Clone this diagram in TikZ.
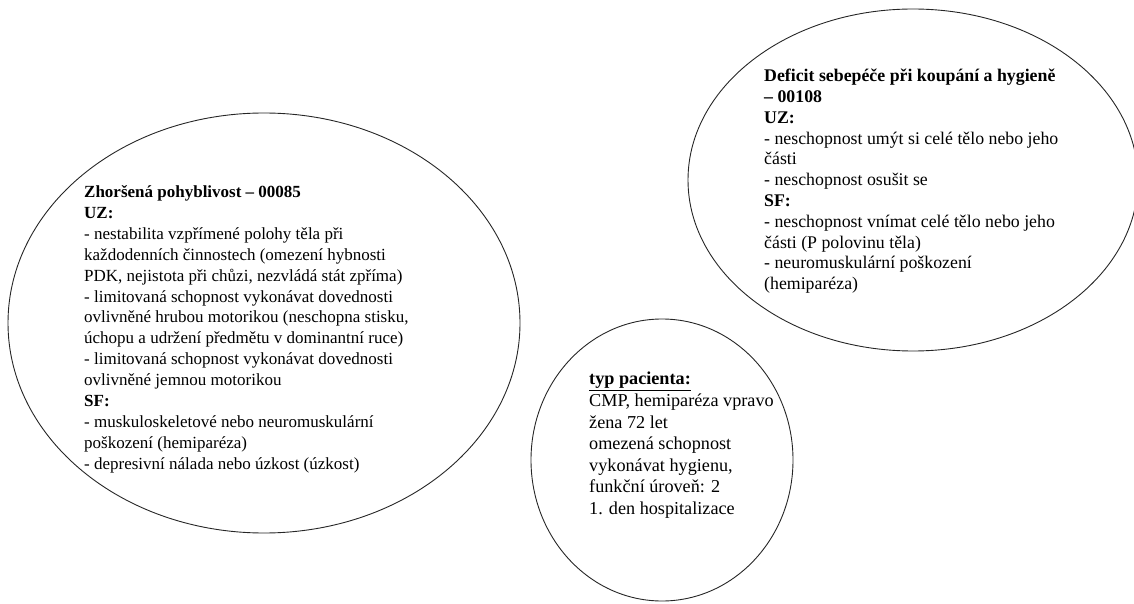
\documentclass[tikz,border=0pt]{standalone}
\usepackage{fontspec}
\setmainfont{Liberation Serif}
\usetikzlibrary{shapes.geometric}
\begin{document}
\begin{tikzpicture}[x=1pt,y=1pt,
  bubble/.style={draw=black!85, line width=0.9pt, ellipse, inner sep=0pt},
  txt/.style={anchor=north west, inner sep=0pt, align=left}]
\useasboundingbox (0,0) rectangle (1134,603);
\node[bubble, minimum width=512, minimum height=420] (e1) at (264,280) {};
\node[bubble, minimum width=450, minimum height=342] (e2) at (913,423) {};
\node[bubble, minimum width=262, minimum height=282] (e3) at (662,143) {};
\node[txt, font=\fontsize{17}{20.9}\selectfont] (t1) at (84,417.6) {\textbf{Zhoršená pohyblivost – 00085}\\
\textbf{UZ:}\\
- nestabilita vzpřímené polohy těla při\\
každodenních činnostech (omezení hybnosti\\
PDK, nejistota při chůzi, nezvládá stát zpříma)\\
- limitovaná schopnost vykonávat dovednosti\\
ovlivněné hrubou motorikou (neschopna stisku,\\
úchopu a udržení předmětu v dominantní ruce)\\
- limitovaná schopnost vykonávat dovednosti\\
ovlivněné jemnou motorikou\\
\textbf{SF:}\\
- muskuloskeletové nebo neuromuskulární\\
poškození (hemiparéza)\\
- depresivní nálada nebo úzkost (úzkost)};
\node[txt, font=\fontsize{17.8}{20.8}\selectfont] (t2) at (764,534) {\textbf{Deficit sebepéče při koupání a hygieně}\\
\textbf{– 00108}\\
\textbf{UZ:}\\
- neschopnost umýt si celé tělo nebo jeho\\
části\\
- neschopnost osušit se\\
\textbf{SF:}\\
- neschopnost vnímat celé tělo nebo jeho\\
části (P polovinu těla)\\
- neuromuskulární poškození\\
(hemiparéza)};
\node[txt, font=\fontsize{18.2}{21.6}\selectfont] (t3) at (589,231) {\textbf{\underline{typ pacienta:}}\\
CMP, hemiparéza vpravo\\
žena 72 let\\
omezená schopnost\\
vykonávat hygienu,\\
funkční úroveň: 2\\
1. den hospitalizace};
\end{tikzpicture}
\end{document}
